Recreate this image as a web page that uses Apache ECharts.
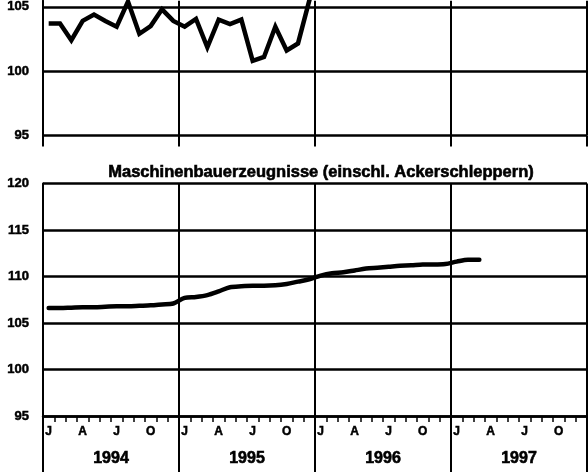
<!DOCTYPE html>
<html><head><meta charset="utf-8">
<script src="https://cdn.jsdelivr.net/npm/echarts@6/dist/echarts.min.js"></script>
<style>html,body{margin:0;padding:0;background:#fff}#c{width:588px;height:472px}</style>
</head><body><div id="c"></div>
<script>
// ---- data ----
const years = ['1994', '1995', '1996', '1997'];
const monthNames = ['01','02','03','04','05','06','07','08','09','10','11','12'];
const monthTickLabels = ['J','','','A','','','J','','','O','',''];
const titleBottom = 'Maschinenbauerzeugnisse (einschl. Ackerschleppern)';
// upper panel (only partly visible), Jan 1994 .. Jan 1996
const topSeries = [
  103.7, 103.7, 102.4, 103.9, 104.4, 103.9, 103.45, 105.4, 102.9, 103.5, 104.8, 103.9,
  103.45, 104.05, 101.85, 104.0, 103.65, 104.0, 100.8, 101.1, 103.45, 101.6, 102.15, 105.5,
  108.0
];
// Maschinenbauerzeugnisse, Jan 1994 .. Mar 1997
const bottomSeries = [
  106.6, 106.6, 106.65, 106.7, 106.7, 106.75, 106.8, 106.8, 106.85, 106.9, 107.0, 107.1,
  107.7, 107.8, 108.0, 108.4, 108.85, 108.95, 109.0, 109.0, 109.05, 109.2, 109.45, 109.7,
  110.1, 110.35, 110.45, 110.65, 110.85, 110.95, 111.05, 111.15, 111.2, 111.3, 111.3, 111.35,
  111.6, 111.8, 111.8
];
const topRange = [95, 105.47];   // upper panel is cut off by the picture's top edge
const bottomRange = [95, 120];

// ---- chart ----
const months = [];
years.forEach(y => monthNames.forEach(m => months.push(y + '-' + m)));
const FONT = '"Liberation Sans", Arial, sans-serif';
const bold = (size, bw) => ({ color: '#000', fontFamily: FONT, fontWeight: 'bold', fontSize: size,
  textBorderColor: '#000', textBorderWidth: bw == null ? 0.5 : bw });

const chart = echarts.init(document.getElementById('c'), null, { renderer: 'canvas' });
chart.setOption({
  animation: false,
  backgroundColor: '#fff',
  title: {
    text: titleBottom, left: 316, top: 159, textAlign: 'center',
    textStyle: bold(16.5, 0.6)
  },
  grid: [
    { left: 43, right: 1, top: 0, bottom: 336.5 },
    { left: 43, right: 1, top: 183.5, bottom: 56 }
  ],
  xAxis: [
    { type: 'category', gridIndex: 0, position: 'bottom', data: months, boundaryGap: true,
      axisLine: { show: false }, axisTick: { show: false }, axisLabel: { show: false }, splitLine: { show: false } },
    { type: 'category', gridIndex: 0, position: 'bottom', data: years, boundaryGap: true,
      axisLine: { show: false },
      axisTick: { show: true, interval: 0, length: 11, lineStyle: { color: '#000', width: 2 } },
      axisLabel: { show: false },
      splitLine: { show: true, interval: 0, lineStyle: { color: '#000', width: 2 } } },
    { type: 'category', gridIndex: 1, position: 'bottom', data: months, boundaryGap: true,
      axisLine: { show: true, lineStyle: { color: '#000', width: 2.5 } },
      axisTick: { show: true, interval: 0, length: 6, lineStyle: { color: '#000', width: 1.5 } },
      axisLabel: { show: true, interval: 0, margin: 10,
        formatter: (v, i) => monthTickLabels[i % 12], ...bold(12) },
      splitLine: { show: false } },
    { type: 'category', gridIndex: 1, position: 'bottom', data: years, boundaryGap: true,
      axisLine: { show: false },
      axisTick: { show: true, interval: 0, length: 56, lineStyle: { color: '#000', width: 2 } },
      axisLabel: { show: true, interval: 0, margin: 35, ...bold(16, 0.6) },
      splitLine: { show: true, interval: 0, lineStyle: { color: '#000', width: 2 } } }
  ],
  yAxis: [
    { type: 'value', gridIndex: 0, min: topRange[0], max: topRange[1], interval: 5,
      axisLine: { show: true, lineStyle: { color: '#000', width: 2 } },
      axisTick: { show: false },
      axisLabel: { margin: 14, showMaxLabel: false,
        formatter: v => (v % 5 === 0 ? String(v) : ''), ...bold(13) },
      splitLine: { show: true, showMaxLine: false, lineStyle: { color: '#000', width: 2.5 } } },
    { type: 'value', gridIndex: 1, min: bottomRange[0], max: bottomRange[1], interval: 5,
      axisLine: { show: true, lineStyle: { color: '#000', width: 2 } },
      axisTick: { show: false },
      axisLabel: { margin: 14, ...bold(13) },
      splitLine: { show: true, lineStyle: { color: '#000', width: 2.5 } } }
  ],
  series: [
    { type: 'line', xAxisIndex: 0, yAxisIndex: 0, data: topSeries, symbol: 'none',
      lineStyle: { color: '#000', width: 4.5, join: 'miter' } },
    { type: 'line', xAxisIndex: 2, yAxisIndex: 1, data: bottomSeries, symbol: 'none', smooth: 0.3,
      lineStyle: { color: '#000', width: 4.5, cap: 'round' } }
  ]
});
</script></body></html>
